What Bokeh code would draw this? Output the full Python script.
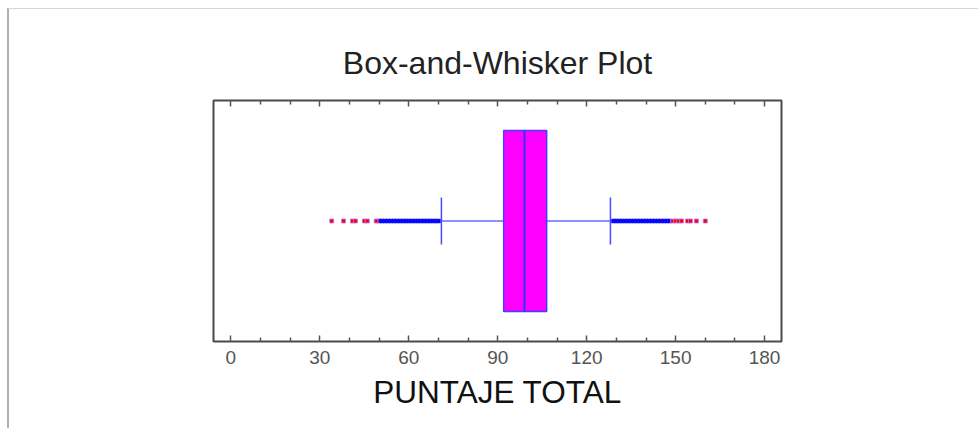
from bokeh.plotting import figure
from bokeh.models import Range1d, LinearAxis, FixedTicker
from bokeh.embed import file_html
from bokeh.resources import INLINE

# ---- data ----
lower_whisker = 71
q1 = 92
median = 99
q3 = 106.5
upper_whisker = 128

outside_points = [50, 51, 52, 53, 54, 55, 56, 57, 58, 59, 60, 61, 62, 63, 64,
                  65, 66, 67, 68, 69, 70,
                  129, 130, 131, 132, 133, 134, 135, 136, 137, 138, 139, 140,
                  141, 142, 143, 144, 145, 146, 147, 148]
far_outside_points = [34, 38, 41, 42, 45, 46, 49,
                      149, 150, 151, 152, 154, 155, 157, 160]

x_ticks = [0, 30, 60, 90, 120, 150, 180]
x_minor_ticks = [10, 20, 40, 50, 70, 80, 100, 110, 130, 140, 160, 170]

title_text = "Box-and-Whisker Plot"
x_label = "PUNTAJE TOTAL"

FONT = "Liberation Sans"

p = figure(frame_width=568, frame_height=241,
           x_range=Range1d(-5.87, 185.7), y_range=Range1d(0, 1),
           x_axis_location=None, y_axis_location=None,
           toolbar_location=None, output_backend="svg",
           min_border_left=204, min_border_right=197,
           min_border_top=91, min_border_bottom=87,
           background_fill_color="white", border_fill_color="white")
p.xgrid.visible = False
p.ygrid.visible = False
p.outline_line_color = "#4a4a4a"
p.outline_line_width = 2

p.title.text = title_text
p.title.align = "center"
p.title.text_font = FONT
p.title.text_font_size = "32px"
p.title.text_font_style = "normal"
p.title.text_color = "#222222"
p.title.standoff = 40

ticker = FixedTicker(ticks=x_ticks, minor_ticks=x_minor_ticks)

top_axis = LinearAxis(ticker=ticker, axis_line_color=None,
                      major_label_text_color=None,
                      major_label_text_font=FONT,
                      major_label_text_font_size="12px",
                      major_tick_in=6, major_tick_out=0,
                      minor_tick_in=4, minor_tick_out=0,
                      major_tick_line_color="#555555",
                      minor_tick_line_color="#555555",
                      major_tick_line_width=1.5, minor_tick_line_width=1.5)
p.add_layout(top_axis, "above")

bottom_axis = LinearAxis(ticker=ticker, axis_line_color=None,
                         major_tick_in=6, major_tick_out=0,
                         minor_tick_in=4, minor_tick_out=0,
                         major_tick_line_color="#555555",
                         minor_tick_line_color="#555555",
                         major_tick_line_width=1.5, minor_tick_line_width=1.5,
                         major_label_standoff=9,
                         major_label_text_font=FONT,
                         major_label_text_font_size="19px",
                         major_label_text_color="#555555",
                         axis_label=x_label,
                         axis_label_standoff=7,
                         axis_label_text_font=FONT,
                         axis_label_text_font_size="31.5px",
                         axis_label_text_font_style="normal",
                         axis_label_text_color="#111111")
p.add_layout(bottom_axis, "below")

yc = 0.5
box_half = 0.376
cap_half = 0.097

# whiskers
p.segment(x0=[lower_whisker, q3], x1=[q1, upper_whisker], y0=[yc, yc], y1=[yc, yc],
          line_color="#2020ff", line_width=1)
# caps
p.segment(x0=[lower_whisker, upper_whisker], x1=[lower_whisker, upper_whisker],
          y0=[yc - cap_half] * 2, y1=[yc + cap_half] * 2,
          line_color="#4a4aff", line_width=1.5)

# box
p.quad(left=[q1], right=[q3], bottom=[yc - box_half], top=[yc + box_half],
       fill_color="#ff00ff", line_color="#4040ff", line_width=1.5)
p.segment(x0=[median], x1=[median], y0=[yc - box_half], y1=[yc + box_half],
          line_color="#3030ff", line_width=2)

# outside points
p.scatter(x=outside_points, y=[yc] * len(outside_points), marker="square",
          size=4, fill_color="#0000ff", line_color="#2020ff", line_width=0.5)
p.scatter(x=far_outside_points, y=[yc] * len(far_outside_points), marker="square",
          size=4, fill_color="#ff0000", line_color="#b080ff", line_width=0.8)

p.styles = {"border-top": "1px solid #d8d8d8", "border-left": "2px solid #b0b0b0"}
p.margin = (8, 0, 0, 7)

open("out.html", "w").write(file_html(p, INLINE))
